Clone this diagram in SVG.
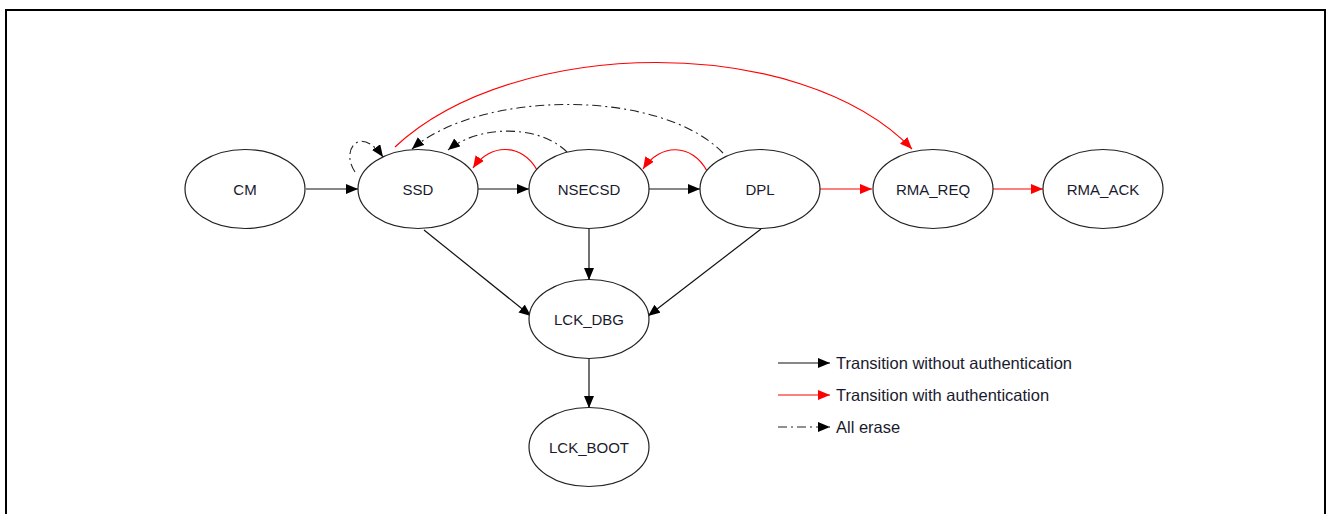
<svg xmlns="http://www.w3.org/2000/svg" width="1326" height="514" viewBox="0 0 1326 514">
<defs>
<style>
.n{fill:#fff;stroke:#222;stroke-width:1.2}
.t{font-family:"Liberation Sans",Arial,sans-serif;font-size:15px;fill:#1a1a2e;text-anchor:middle;dominant-baseline:central}
.lg{font-family:"Liberation Sans",Arial,sans-serif;font-size:16.5px;fill:#1a1a2e}
.b{fill:none;stroke:#111;stroke-width:1.2;marker-end:url(#ab)}
.r{fill:none;stroke:#f00;stroke-width:1.2;marker-end:url(#ar)}
.d{fill:none;stroke:#222;stroke-width:1.1;stroke-dasharray:9,4,2,4;marker-end:url(#ab)}
</style>
<marker id="ab" markerUnits="userSpaceOnUse" markerWidth="14" markerHeight="12" refX="12" refY="5" orient="auto"><path d="M0,0 L12,5 L0,10 Z" fill="#000"/></marker>
<marker id="ar" markerUnits="userSpaceOnUse" markerWidth="14" markerHeight="12" refX="12" refY="5" orient="auto"><path d="M0,0 L12,5 L0,10 Z" fill="#f00"/></marker>
</defs>
<rect width="1326" height="514" fill="#fff"/>
<path d="M6,520 V10 H1325 V520" fill="none" stroke="#000" stroke-width="2"/>
<g id="connectors">
<path class="b" d="M306,189 H358"/>
<path class="b" d="M478,189 H529"/>
<path class="b" d="M649,189 H700"/>
<path class="r" d="M820,189 H872"/>
<path class="r" d="M993,189 H1043"/>
<path class="b" d="M589,229 V280"/>
<path class="b" d="M424,230 L531,316"/>
<path class="b" d="M761,229 L648,316"/>
<path class="b" d="M589,358 V408"/>
<path class="r" d="M395,147 C515,35 800,33 912,149"/>
<path class="d" d="M723,153 C660,88 480,90 412,149"/>
<path class="d" d="M567,152 C540,125 480,124 448,150"/>
<path class="r" d="M537,170 C522,143 490,143 473,168"/>
<path class="r" d="M707,171 C692,143 660,143 643,169"/>
<path class="d" d="M355,172 C340,150 360,124 383,157"/>
</g>
<g id="CM"><ellipse class="n" cx="245" cy="189" rx="60" ry="39.5"/><text class="t" x="245" y="189">CM</text></g>
<g id="SSD"><ellipse class="n" cx="418" cy="189" rx="60" ry="39.5"/><text class="t" x="418" y="189">SSD</text></g>
<g id="NSECSD"><ellipse class="n" cx="589" cy="189" rx="60" ry="39.5"/><text class="t" x="589" y="189">NSECSD</text></g>
<g id="DPL"><ellipse class="n" cx="760" cy="189" rx="60" ry="39.5"/><text class="t" x="760" y="189">DPL</text></g>
<g id="RMA_REQ"><ellipse class="n" cx="933" cy="189" rx="60" ry="39.5"/><text class="t" x="933" y="189">RMA_REQ</text></g>
<g id="RMA_ACK"><ellipse class="n" cx="1103" cy="189" rx="60" ry="39.5"/><text class="t" x="1103" y="189">RMA_ACK</text></g>
<g id="LCK_DBG"><ellipse class="n" cx="589" cy="319" rx="60" ry="39.5"/><text class="t" x="589" y="319">LCK_DBG</text></g>
<g id="LCK_BOOT"><ellipse class="n" cx="589" cy="447" rx="60" ry="39.5"/><text class="t" x="589" y="447">LCK_BOOT</text></g>
<g id="legend">
<path class="b" d="M778,363 H830"/>
<text class="lg" x="836" y="369">Transition without authentication</text>
<path class="r" d="M778,395 H830"/>
<text class="lg" x="836" y="401">Transition with authentication</text>
<path class="d" d="M778,427 H830"/>
<text class="lg" x="836" y="433">All erase</text>
</g>
</svg>
